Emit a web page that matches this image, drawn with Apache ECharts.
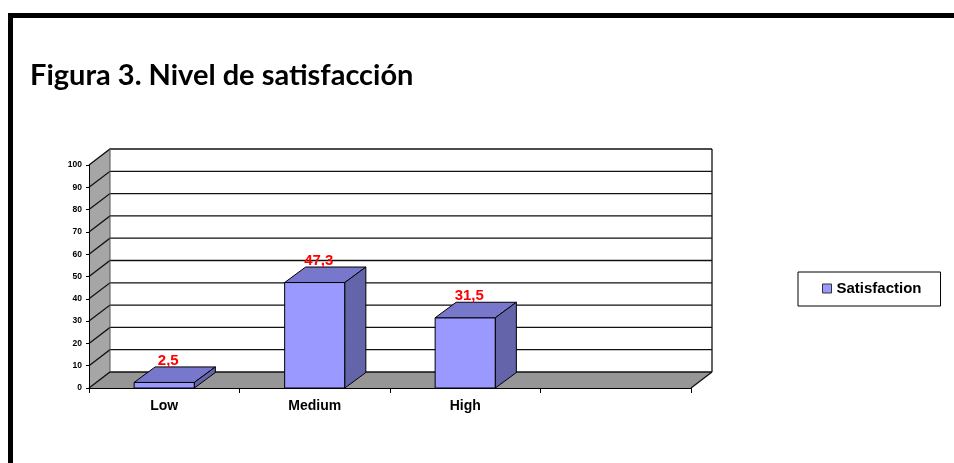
<!DOCTYPE html>
<html lang="es">
<head>
    <meta charset="UTF-8">
    <title>Figura 3. Nivel de satisfacción</title>
    <style>
        html, body { margin: 0; padding: 0; background: #fff; }
        #main { width: 954px; height: 463px; }
    </style>
</head>
<body>
<div id="main"></div>

<script src="https://cdn.jsdelivr.net/npm/echarts@6/dist/echarts.min.js"></script>
<script>
    // datos del gráfico
    var categories = ['Low', 'Medium', 'High', ''];
    var values = [2.5, 47.3, 31.5];
    var yTicks = [0, 10, 20, 30, 40, 50, 60, 70, 80, 90, 100];
    var seriesName = 'Satisfaction';

    // profundidad del efecto 3D
    var wallDx = 21, wallDy = -16;
    var barDx = 21, barDy = -15.5;

    var chart = echarts.init(document.getElementById('main'));

    function renderWalls(params, api) {
        var cs = params.coordSys;
        var x0 = cs.x, x1 = cs.x + cs.width;
        var yt = cs.y, yb = cs.y + cs.height;
        var line = { stroke: '#111', lineWidth: 1.3, fill: null };
        var children = [];
        // pared del fondo
        children.push({
            type: 'polygon',
            shape: { points: [[x0 + wallDx, yt + wallDy], [x1 + wallDx, yt + wallDy], [x1 + wallDx, yb + wallDy], [x0 + wallDx, yb + wallDy]] },
            style: { fill: '#fff' }
        });
        // pared lateral
        children.push({
            type: 'polygon',
            shape: { points: [[x0, yt], [x0 + wallDx, yt + wallDy], [x0 + wallDx, yb + wallDy], [x0, yb]] },
            style: { fill: '#a6a6a6' }
        });
        // suelo
        children.push({
            type: 'polygon',
            shape: { points: [[x0, yb], [x1, yb], [x1 + wallDx, yb + wallDy], [x0 + wallDx, yb + wallDy]] },
            style: { fill: '#969696' }
        });
        // lineas de division
        yTicks.forEach(function (v) {
            var y = api.coord([0, v])[1];
            children.push({
                type: 'polyline',
                shape: { points: [[x0, y], [x0 + wallDx, y + wallDy], [x1 + wallDx, y + wallDy]] },
                style: line
            });
        });
        children.push({ type: 'line', shape: { x1: x1 + wallDx, y1: yt + wallDy, x2: x1 + wallDx, y2: yb + wallDy }, style: line });
        children.push({ type: 'line', shape: { x1: x0 + wallDx, y1: yt + wallDy, x2: x0 + wallDx, y2: yb + wallDy }, style: { stroke: '#555', lineWidth: 1, fill: null } });
        children.push({ type: 'line', shape: { x1: x1, y1: yb, x2: x1 + wallDx, y2: yb + wallDy }, style: line });
        return { type: 'group', children: children };
    }

    function renderBar(params, api) {
        var i = api.value(0), v = api.value(1);
        var top = api.coord([i, v]);
        var base = api.coord([i, 0]);
        var bw = api.size([1, 0])[0] * 0.4;
        var xl = top[0] - bw / 2, xr = top[0] + bw / 2;
        var yt = top[1], yb = base[1];
        var edge = { stroke: '#000', lineWidth: 1 };
        return {
            type: 'group',
            children: [
                {
                    type: 'polygon',
                    shape: { points: [[xl, yt], [xr, yt], [xr, yb], [xl, yb]] },
                    style: Object.assign({ fill: '#9999ff' }, edge)
                },
                {
                    type: 'polygon',
                    shape: { points: [[xl, yt], [xr, yt], [xr + barDx, yt + barDy], [xl + barDx, yt + barDy]] },
                    style: Object.assign({ fill: '#7777cc' }, edge)
                },
                {
                    type: 'polygon',
                    shape: { points: [[xr, yt], [xr + barDx, yt + barDy], [xr + barDx, yb + barDy], [xr, yb]] },
                    style: Object.assign({ fill: '#6464aa' }, edge)
                },
                {
                    type: 'text',
                    style: {
                        text: String(v).replace('.', ','),
                        x: top[0] + 4,
                        y: yt + barDy + 1,
                        align: 'center',
                        verticalAlign: 'bottom',
                        fill: '#ff0000',
                        font: 'bold 15px "Liberation Sans", Arial, sans-serif'
                    }
                }
            ]
        };
    }

    var option = {
        animation: false,
        backgroundColor: '#fff',
        title: {
            text: '{b|Figura 3}{r|. Nivel de satisfacción}',
            left: 30,
            top: 61,
            padding: 0,
            textStyle: {
                rich: {
                    b: { fontFamily: 'Lato', fontWeight: 'bold', fontSize: 29, color: '#000' },
                    r: { fontFamily: 'Lato', fontSize: 29, color: '#000' }
                }
            }
        },
        legend: {
            data: [seriesName],
            left: 798,
            top: 272,
            padding: [9, 19, 10, 24],
            itemWidth: 9,
            itemHeight: 9,
            icon: 'rect',
            borderColor: '#000',
            borderWidth: 1,
            backgroundColor: '#fff',
            itemStyle: { borderColor: '#333', borderWidth: 1 },
            textStyle: { fontFamily: 'Liberation Sans', fontWeight: 'bold', fontSize: 15, color: '#000' }
        },
        graphic: [
            { type: 'rect', shape: { x: 8, y: 13, width: 946, height: 5 }, style: { fill: '#000' } },
            { type: 'rect', shape: { x: 8, y: 13, width: 5, height: 450 }, style: { fill: '#000' } }
        ],
        grid: { left: 89, right: 263, top: 165, bottom: 75 },
        xAxis: {
            type: 'category',
            data: categories,
            boundaryGap: true,
            axisLine: { lineStyle: { color: '#000', width: 1 } },
            axisTick: { show: true, length: 5, lineStyle: { color: '#000' } },
            axisLabel: { color: '#000', fontFamily: 'Liberation Sans', fontWeight: 'bold', fontSize: 14, margin: 11 },
            z: 5
        },
        yAxis: {
            type: 'value',
            min: 0,
            max: 100,
            interval: 10,
            axisLine: { show: true, lineStyle: { color: '#000', width: 1 } },
            axisTick: { show: true, length: 3, lineStyle: { color: '#000' } },
            splitLine: { show: false },
            axisLabel: { color: '#000', fontFamily: 'Liberation Sans', fontWeight: 'bold', fontSize: 8.5, margin: 7 },
            z: 5
        },
        series: [
            {
                name: 'walls',
                type: 'custom',
                silent: true,
                z: 1,
                renderItem: renderWalls,
                data: [[0, 0]]
            },
            {
                name: seriesName,
                type: 'custom',
                z: 3,
                itemStyle: { color: '#9999ff' },
                renderItem: renderBar,
                encode: { x: 0, y: 1 },
                data: values.map(function (v, i) { return [i, v]; })
            }
        ]
    };

    chart.setOption(option);
</script>
</body>
</html>
